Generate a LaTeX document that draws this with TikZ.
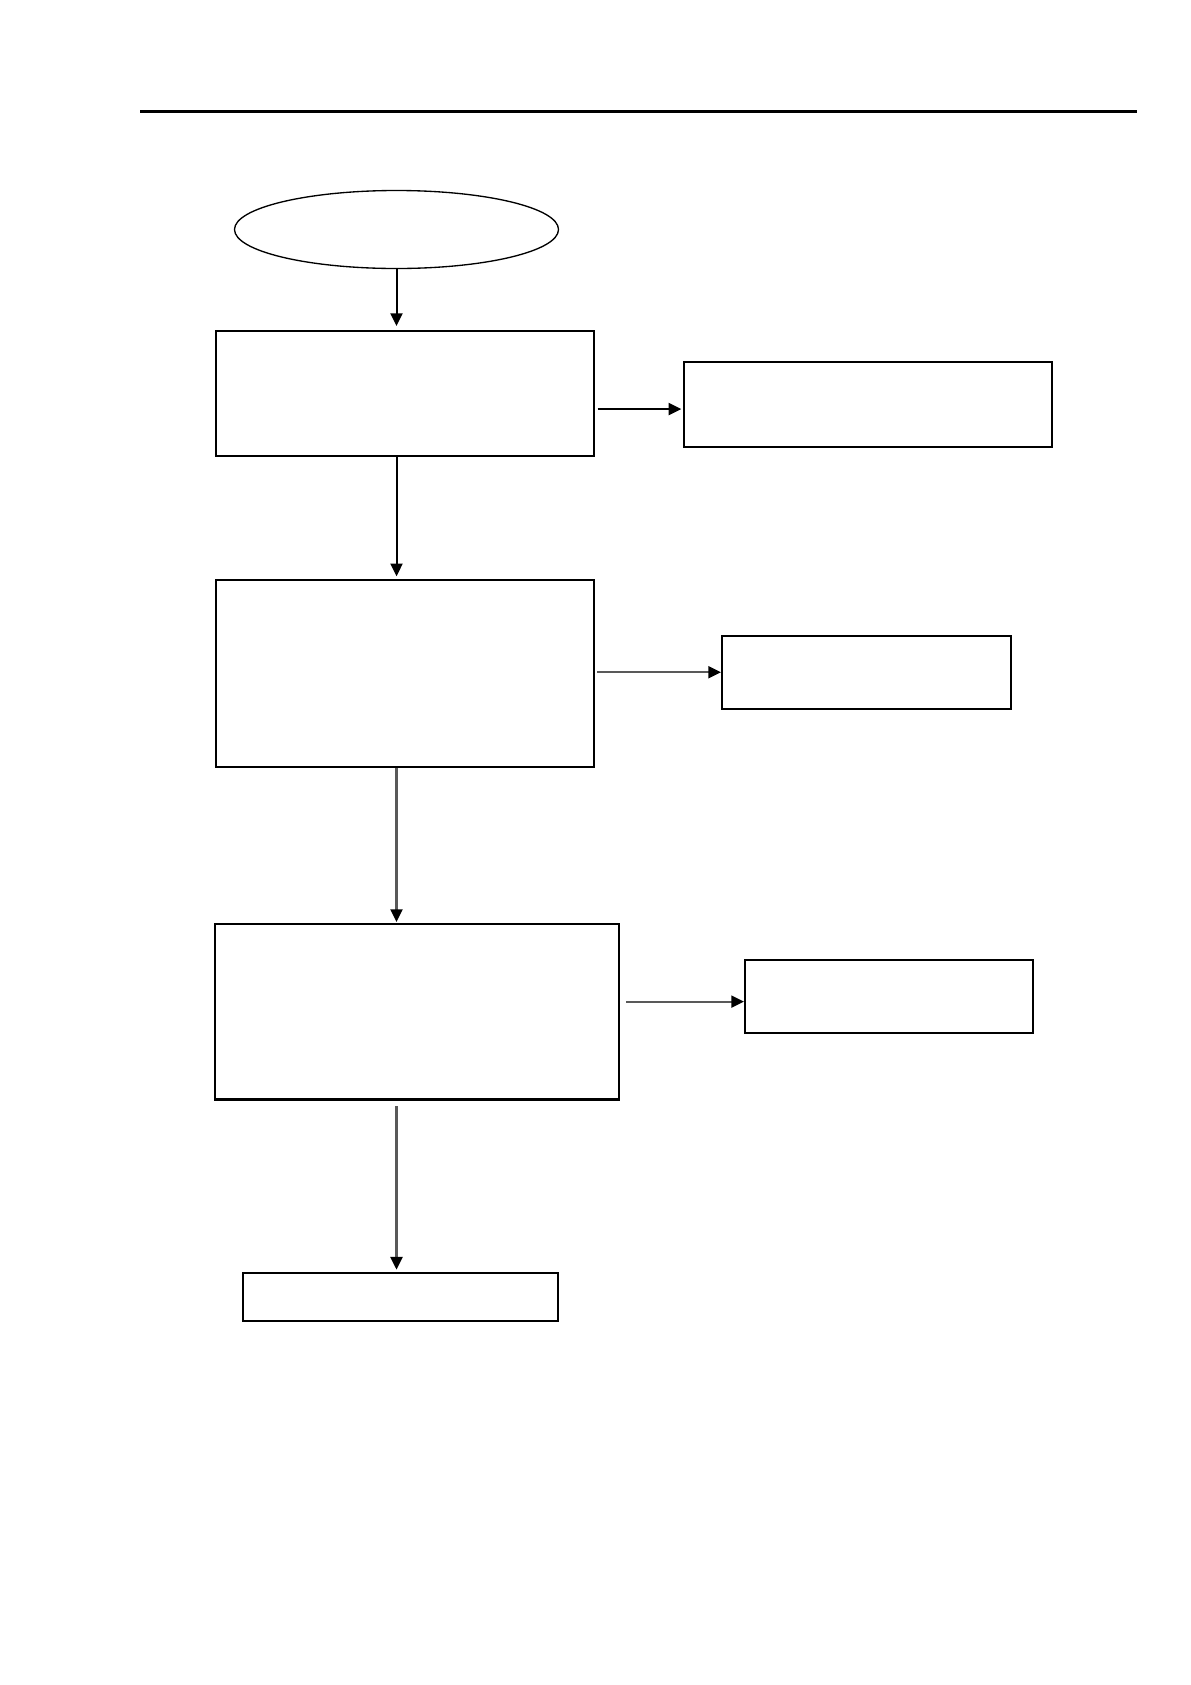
\documentclass[tikz,border=0pt]{standalone}
\usetikzlibrary{arrows.meta,shapes.geometric,calc}
\begin{document}
\begin{tikzpicture}[x=0.75pt,y=-0.75pt,
  boxthick/.style={draw=black,line width=1.5pt,rectangle,inner sep=0pt},
  boxthin/.style={draw=black,line width=1pt,rectangle,inner sep=0pt},
  oval/.style={draw=black,line width=1pt,ellipse,inner sep=0pt},
  arr/.style={line width=1.5pt,-{Triangle[length=9.5pt,width=9pt]}},
  grayarr/.style={line width=1.6pt,draw=black!65,-{Triangle[length=9.5pt,width=9pt,fill=black,color=black]}}]
\useasboundingbox[fill=white] (0,0) rectangle (1191,1685);
% header rule
\coordinate (hl) at (140,111);
\coordinate (hr) at (1137,111);
\draw[line width=2.25pt] (hl) -- (hr);
% nodes
\node[oval,minimum width=243pt,minimum height=58.5pt] (ell) at (396.5,229.5) {};
\node[boxthick,minimum width=283.5pt,minimum height=93.75pt] (b1) at (405,393.5) {};
\node[boxthin,minimum width=276pt,minimum height=63.75pt] (b2) at (868,404.5) {};
\node[boxthick,minimum width=283.5pt,minimum height=140.25pt] (b3) at (405,673.5) {};
\node[boxthick,minimum width=216.75pt,minimum height=55.1pt] (b4) at (866.5,672.25) {};
\node[boxthin,minimum width=303pt,minimum height=131.25pt] (b5) at (417,1011.5) {};
\node[boxthick,minimum width=216pt,minimum height=54.75pt] (b6) at (889,996.5) {};
\node[boxthick,minimum width=236.25pt,minimum height=35.6pt] (b7) at (400.5,1297) {};
% thicker bottom edge of b5
\draw[line width=1.8pt] (b5.south west) -- (b5.south east);
% row coordinates for horizontal connectors
\coordinate (r1) at (0,409);
\coordinate (r3) at (0,1001.6);
% vertical connectors
\draw[arr,shorten >=3pt] (ell.south) -- (ell.south |- b1.north);
\draw[arr,shorten >=2pt] (b1.south -| ell.south) -- (b3.north -| ell.south);
\draw[grayarr,shorten >=1pt] (b3.south -| ell.south) -- (b5.north -| ell.south);
\draw[grayarr,shorten <=5pt,shorten >=2pt] (b5.south -| ell.south) -- (b7.north -| ell.south);
% horizontal connectors
\draw[arr,shorten <=2pt,shorten >=1.5pt] (b1.east |- r1) -- (b2.west |- r1);
\draw[grayarr,shorten <=1.5pt] (b3.east |- b4.west) -- (b4.west);
\draw[grayarr,shorten <=5pt] (b5.east |- r3) -- (b6.west |- r3);
\end{tikzpicture}
\end{document}
